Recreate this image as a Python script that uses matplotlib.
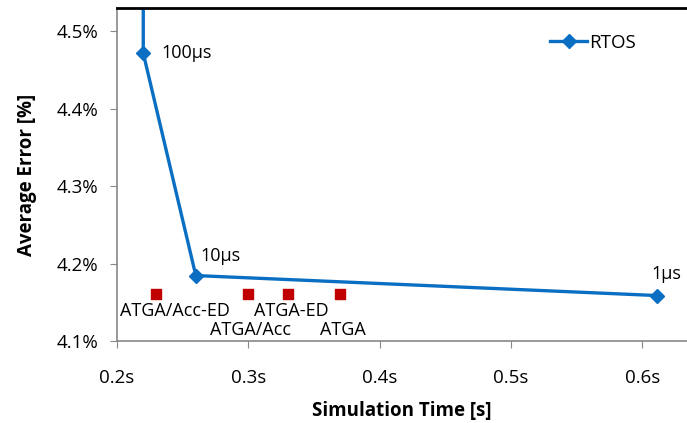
import matplotlib
matplotlib.use("Agg")
import matplotlib.pyplot as plt

plt.rcParams['font.family'] = ['Open Sans', 'DejaVu Sans']

# RTOS curve (simulation time [s], average error [%])
rtos_time = [0.22, 0.22, 0.26, 0.611]
rtos_error = [4.70, 4.4716, 4.1845, 4.1587]
rtos_labels = [None, '100µs', '10µs', '1µs']

# ATGA variants
atga_time = [0.23, 0.30, 0.33, 0.37]
atga_error = [4.161, 4.161, 4.161, 4.161]
atga_names = ['ATGA/Acc-ED', 'ATGA/Acc', 'ATGA-ED', 'ATGA']

xticks = [0.2, 0.3, 0.4, 0.5, 0.6]
yticks = [4.1, 4.2, 4.3, 4.4, 4.5]

blue = '#0A6FC2'
red = '#C00000'
gray = '#888888'

fig = plt.figure(figsize=(6.87, 4.23), dpi=100)
ax = fig.add_axes([117 / 687, 1 - 341 / 423, 1 - 117 / 687, 333 / 423])

ax.plot(rtos_time, rtos_error, color=blue, lw=2.4, marker='D', ms=7.5,
        markevery=[1, 2, 3], label='RTOS')
ax.scatter(atga_time, atga_error, marker='s', s=60, color=red, zorder=3)

# point labels
offsets_rtos = {'100µs': (18, 0, 'left'), '10µs': (5, 20, 'left'), '1µs': (10, 22, 'center')}
for t, e, lab in zip(rtos_time, rtos_error, rtos_labels):
    if lab is None:
        continue
    dx, dy, ha = offsets_rtos[lab]
    ax.annotate(lab, (t, e), xytext=(dx, dy), textcoords='offset pixels',
                ha=ha, va='center', fontsize=13)

offsets_atga = [(19, -17), (2, -36), (4, -17), (3, -36)]
for t, e, lab, (dx, dy) in zip(atga_time, atga_error, atga_names, offsets_atga):
    ax.annotate(lab, (t, e), xytext=(dx, dy), textcoords='offset pixels',
                ha='center', va='center', fontsize=13)

ax.set_xlim(0.2, 0.634)
ax.set_ylim(4.1, 4.53)
ax.set_xticks(xticks)
ax.set_xticklabels([f'{v:.1f}s' for v in xticks])
ax.set_yticks(yticks)
ax.set_yticklabels([f'{v:.1f}%' for v in yticks])
ax.tick_params(labelsize=13.5, color=gray, length=5, direction='out')
ax.tick_params(axis='x', pad=15)
ax.tick_params(axis='y', pad=8.5)

ax.set_xlabel('Simulation Time [s]', fontsize=13.5, fontweight='bold', labelpad=10)
ax.set_ylabel('Average Error [%]', fontsize=13.5, fontweight='bold', labelpad=14)

ax.spines['left'].set_color(gray)
ax.spines['bottom'].set_color(gray)
ax.spines['left'].set_linewidth(1.2)
ax.spines['bottom'].set_linewidth(1.2)
ax.spines['top'].set_color('black')
ax.spines['top'].set_linewidth(2)
ax.spines['right'].set_visible(False)

ax.legend(loc='center left', bbox_to_anchor=(0.7596, 0.895), frameon=False,
          fontsize=13.5, handlelength=2.0, handletextpad=0.1,
          borderpad=0, borderaxespad=0)

fig.savefig('out.png', dpi=100)
